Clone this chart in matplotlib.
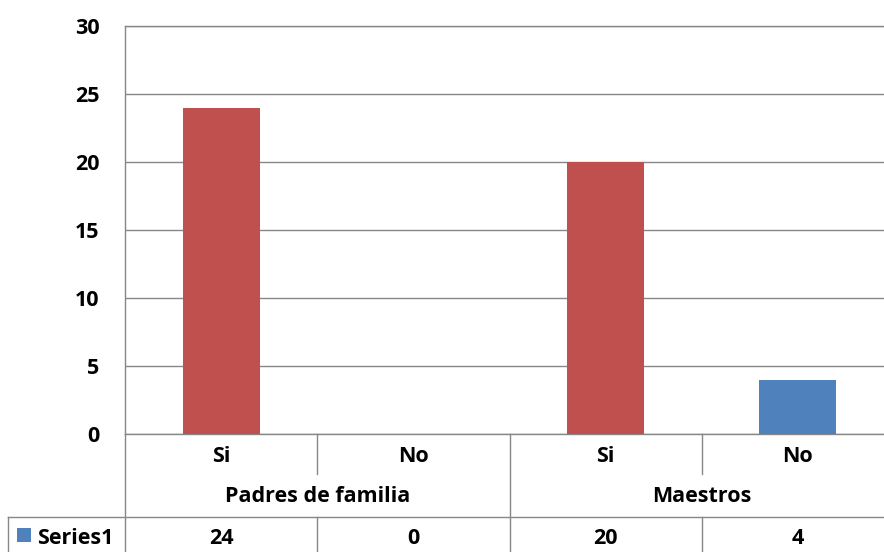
import numpy as np
import matplotlib.pyplot as plt
from matplotlib.transforms import blended_transform_factory
from matplotlib.patches import Rectangle

plt.rcParams['font.family'] = ['Open Sans', 'DejaVu Sans']

categories = ['Si', 'No', 'Si', 'No']
groups = ['Padres de familia', 'Maestros']
values = [24, 0, 20, 4]
series_name = 'Series1'
yticks = [0, 5, 10, 15, 20, 25, 30]

W, H = 884, 552
fig = plt.figure(figsize=(W / 100, H / 100), dpi=100)

# plot area in pixels (right edge runs past the image edge)
left, right, top, bottom = 125, 894, 26, 434
ax = fig.add_axes([left / W, (H - bottom) / H, (right - left) / W, (bottom - top) / H])

grid = '#878787'
red = '#C0504D'
blue = '#4F81BD'
bar_colors = [red, red, red, blue]
fs = 15.5

x = np.arange(len(values))
ax.bar(x, values, width=0.4, color=bar_colors, zorder=3)
ax.set_xlim(-0.5, len(values) - 0.5)
ax.set_ylim(0, 30)
ax.set_yticks(yticks)
ax.set_yticklabels([str(t) for t in yticks], fontsize=fs, fontweight='bold')
ax.tick_params(axis='y', length=0, pad=18.5)
ax.set_xticks([])
ax.grid(axis='y', color=grid, lw=1, zorder=0)
for s in ['right', 'bottom']:
    ax.spines[s].set_visible(False)
for s in ['left', 'top']:
    ax.spines[s].set_color(grid)
    ax.spines[s].set_linewidth(1)

# y in axes fraction from pixel row
def ay(py):
    return (bottom - py) / (bottom - top)

tr = blended_transform_factory(ax.transData, ax.transAxes)
lk = dict(color=grid, lw=1, transform=tr, clip_on=False)

# table lines
ax.plot([-0.5, -0.5], [ay(bottom), ay(H + 2)], **lk)
ax.plot([-0.5, len(values) - 0.5], [ay(bottom), ay(bottom)], **lk)
for xi in [0.5, 2.5]:
    ax.plot([xi, xi], [ay(bottom), ay(474)], **lk)
    ax.plot([xi, xi], [ay(517), ay(H + 2)], **lk)
ax.plot([1.5, 1.5], [ay(bottom), ay(H + 2)], **lk)
fig.add_artist(plt.Line2D([8 / W, 1], [(H - 517) / H] * 2, color=grid, lw=1))
fig.add_artist(plt.Line2D([8 / W, 8 / W], [(H - 517) / H, 0], color=grid, lw=1))

for xi, c in zip(x, categories):
    ax.text(xi, ay(462), c, transform=tr, ha='center', va='baseline',
            fontsize=fs, fontweight='bold')
for gi, g in enumerate(groups):
    ax.text(2 * gi + 0.5, ay(502), g, transform=tr, ha='center', va='baseline',
            fontsize=fs, fontweight='bold')
for xi, v in zip(x, values):
    ax.text(xi, ay(544), str(v), transform=tr, ha='center', va='baseline',
            fontsize=fs, fontweight='bold')

fig.add_artist(Rectangle((17 / W, (H - 542) / H), 14 / W, 14 / H,
                         facecolor=blue, edgecolor='none'))
fig.text(37 / W, (H - 544) / H, series_name, ha='left', va='baseline',
         fontsize=fs, fontweight='bold')

fig.savefig('out.png', dpi=100)
